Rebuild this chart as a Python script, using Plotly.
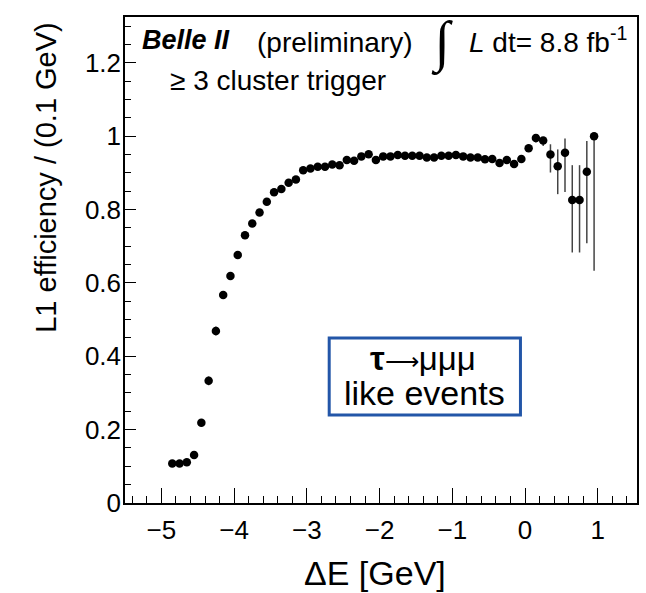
import plotly.graph_objects as go

# Bin centres of Delta E (0.1 GeV bins) and the L1 trigger efficiency per bin
delta_e = [
    -4.85, -4.75, -4.65, -4.55, -4.45, -4.35, -4.25, -4.15, -4.05, -3.95,
    -3.85, -3.75, -3.65, -3.55, -3.45, -3.35, -3.25, -3.15, -3.05, -2.95,
    -2.85, -2.75, -2.65, -2.55, -2.45, -2.35, -2.25, -2.15, -2.05, -1.95,
    -1.85, -1.75, -1.65, -1.55, -1.45, -1.35, -1.25, -1.15, -1.05, -0.95,
    -0.85, -0.75, -0.65, -0.55, -0.45, -0.35, -0.25, -0.15, -0.05, 0.05,
    0.15, 0.25, 0.35, 0.45, 0.55, 0.65, 0.75, 0.85, 0.95,
]
efficiency = [
    0.108, 0.108, 0.111, 0.131, 0.219, 0.333, 0.469, 0.567, 0.619, 0.676,
    0.730, 0.762, 0.792, 0.821, 0.847, 0.856, 0.873, 0.882, 0.907, 0.912,
    0.917, 0.917, 0.923, 0.921, 0.935, 0.933, 0.945, 0.951, 0.935, 0.945,
    0.945, 0.949, 0.947, 0.947, 0.947, 0.942, 0.942, 0.947, 0.947, 0.949,
    0.945, 0.942, 0.942, 0.937, 0.938, 0.927, 0.935, 0.924, 0.938, 0.967,
    0.995, 0.988, 0.950, 0.918, 0.955, 0.826, 0.826, 0.903, 1.000,
]
# Asymmetric (binomial) uncertainties
err_up = [
    0.006, 0.006, 0.006, 0.007, 0.010, 0.012, 0.012, 0.010, 0.009, 0.008,
    0.007, 0.006, 0.006, 0.005, 0.005, 0.005, 0.005, 0.004, 0.004, 0.004,
    0.004, 0.004, 0.004, 0.004, 0.004, 0.004, 0.004, 0.004, 0.004, 0.004,
    0.004, 0.004, 0.004, 0.004, 0.004, 0.004, 0.004, 0.004, 0.004, 0.004,
    0.004, 0.004, 0.004, 0.005, 0.005, 0.005, 0.006, 0.006, 0.006, 0.008,
    0.005, 0.008, 0.028, 0.046, 0.039, 0.095, 0.095, 0.084, 0.000,
]
err_down = [
    0.006, 0.006, 0.006, 0.007, 0.010, 0.012, 0.012, 0.010, 0.009, 0.008,
    0.007, 0.006, 0.006, 0.005, 0.005, 0.005, 0.005, 0.004, 0.004, 0.004,
    0.004, 0.004, 0.004, 0.004, 0.004, 0.004, 0.004, 0.004, 0.004, 0.004,
    0.004, 0.004, 0.004, 0.004, 0.004, 0.004, 0.004, 0.004, 0.004, 0.004,
    0.004, 0.004, 0.004, 0.005, 0.005, 0.005, 0.006, 0.006, 0.007, 0.010,
    0.012, 0.015, 0.049, 0.076, 0.107, 0.143, 0.143, 0.195, 0.367,
]

FONT = "Liberation Sans, Arial, Helvetica, sans-serif"

fig = go.Figure()
fig.add_trace(go.Scatter(
    x=delta_e, y=efficiency, mode="markers",
    marker=dict(color="black", size=8.5),
    error_y=dict(type="data", symmetric=False, array=err_up, arrayminus=err_down,
                 color="#444444", thickness=1.5, width=0),
    showlegend=False,
))

axis_common = dict(
    showline=True, linecolor="black", linewidth=1.5, mirror=True,
    showgrid=False, zeroline=False, ticks="inside", tickcolor="black",
    tickwidth=1, tickfont=dict(family=FONT, size=26, color="black"),
)
fig.update_xaxes(
    range=[-5.5, 1.54], dtick=1, tick0=0, ticklen=15,
    minor=dict(dtick=0.2, ticks="inside", ticklen=7, tickcolor="black"),
    ticklabelstandoff=3, **axis_common,
)
fig.update_yaxes(
    range=[0, 1.325], dtick=0.2, tick0=0, ticklen=11,
    minor=dict(dtick=0.05, ticks="inside", ticklen=6, tickcolor="black"),
    ticklabelstandoff=-3, **axis_common,
)


def px_x(px):
    return (px - 125) / 514


def px_y(py):
    return (503 - py) / 486


annotations = [
    dict(text="ΔE [GeV]", x=px_x(376), y=px_y(573), font=dict(size=34)),
    dict(text="L1 efficiency / (0.1 GeV)", x=px_x(45), y=px_y(20),
         yanchor="top", textangle=-90, font=dict(size=29)),
    dict(text="<b><i>Belle II</i></b>", x=px_x(140), y=px_y(40),
         xanchor="left", font=dict(size=27)),
    dict(text="(preliminary)", x=px_x(256), y=px_y(42),
         xanchor="left", font=dict(size=28)),
    dict(text="<b><i>∫</i></b>", x=px_x(443), y=px_y(43),
         font=dict(size=56, family="Liberation Serif, serif")),
    dict(text="<i>L</i> dt= 8.8 fb<sup>-1</sup>", x=px_x(468), y=px_y(40),
         xanchor="left", font=dict(size=28)),
    dict(text="≥ 3 cluster trigger", x=px_x(168), y=px_y(81),
         xanchor="left", font=dict(size=28)),
    dict(text="<b>τ</b><span style='font-size:24px'>⟶</span>μμμ",
         x=px_x(424), y=px_y(358), font=dict(size=33)),
    dict(text="like events", x=px_x(426), y=px_y(393), font=dict(size=34)),
]
for a in annotations:
    a.setdefault("xanchor", "center")
    a.setdefault("yanchor", "middle")
    a["font"] = dict(family=a["font"].get("family", FONT), size=a["font"]["size"],
                     color="black")
    fig.add_annotation(xref="paper", yref="paper", showarrow=False, **a)

fig.add_shape(type="rect", xref="paper", yref="paper",
              x0=px_x(330), x1=px_x(522), y0=px_y(415), y1=px_y(338),
              line=dict(color="#2356a8", width=3), fillcolor="rgba(0,0,0,0)")

fig.update_layout(
    width=646, height=593, autosize=False,
    margin=dict(l=125, r=7, t=17, b=90),
    paper_bgcolor="white", plot_bgcolor="white",
    font=dict(family=FONT, color="black"),
)

fig.write_html("out.html")
